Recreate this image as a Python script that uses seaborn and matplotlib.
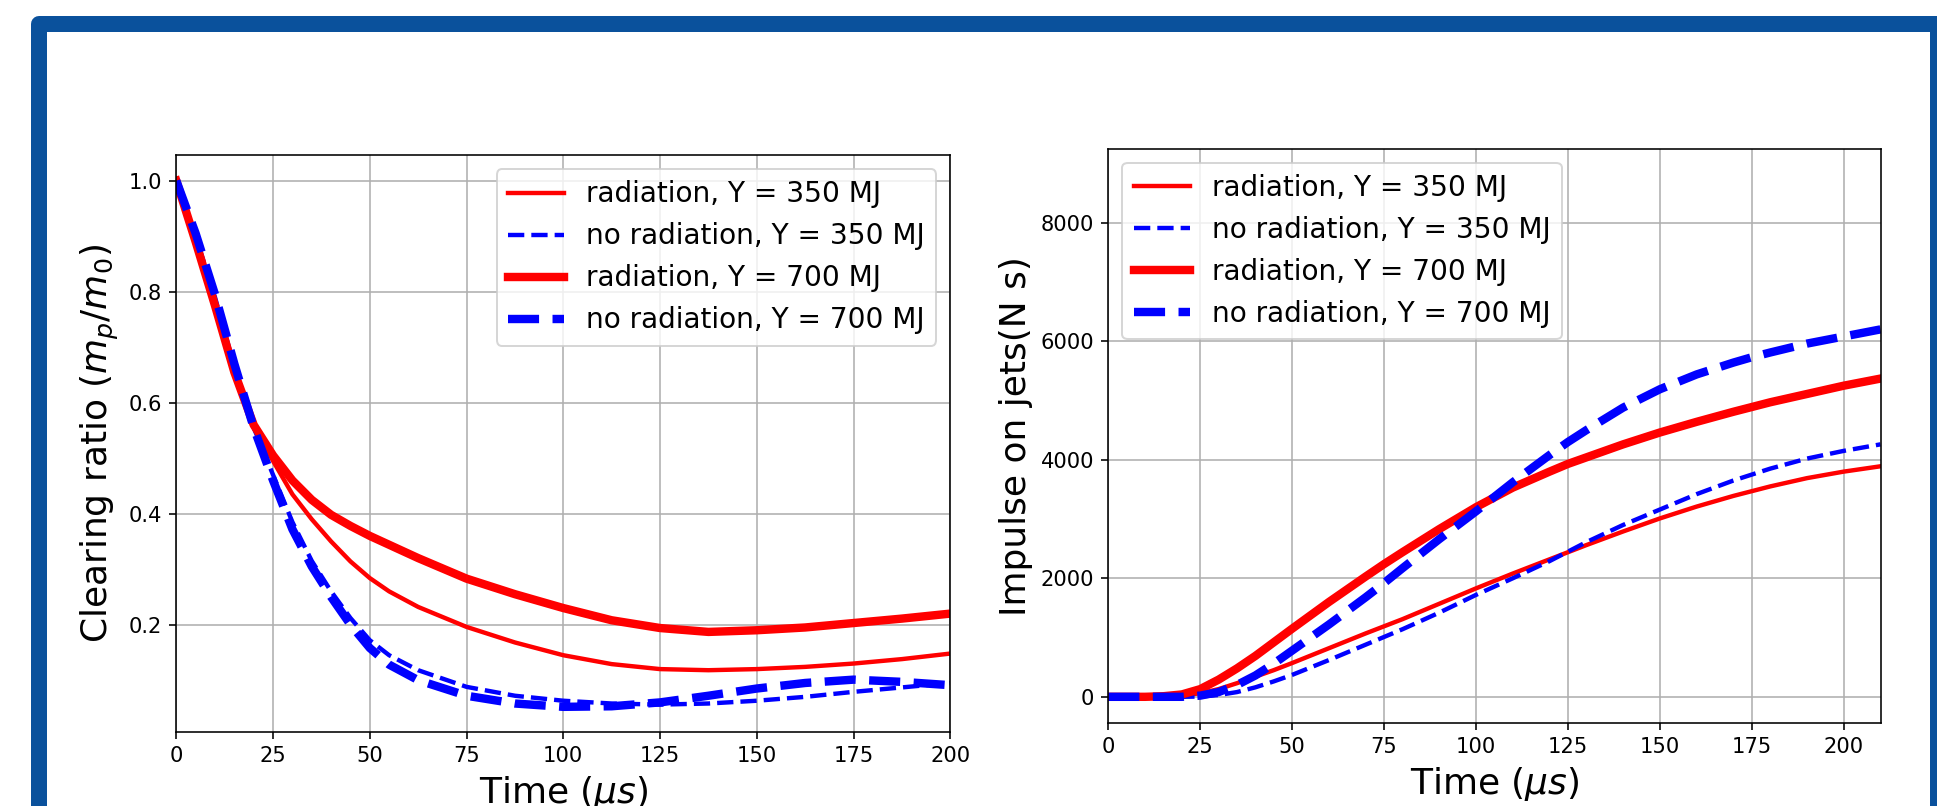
import numpy as np
import pandas as pd
import matplotlib
matplotlib.use("Agg")
import matplotlib.pyplot as plt
import matplotlib.patches as mpatches
import seaborn as sns

# ---------------- data ----------------
labels = ["radiation, Y = 350 MJ", "no radiation, Y = 350 MJ",
          "radiation, Y = 700 MJ", "no radiation, Y = 700 MJ"]

# Left panel: clearing ratio
t_clear = [0, 5, 10, 15, 20, 25, 30, 35, 40, 45, 50, 55, 62.5, 75, 87.5, 100,
           112.5, 125, 137.5, 150, 162.5, 175, 187.5, 200]
clear_rad350 = [1.0, 0.89, 0.775, 0.655, 0.56, 0.495, 0.435, 0.39, 0.35, 0.314, 0.284, 0.26,
                0.232, 0.196, 0.168, 0.145, 0.129, 0.12, 0.118, 0.12, 0.124, 0.13, 0.138, 0.148]
clear_norad350 = [1.0, 0.9, 0.79, 0.665, 0.555, 0.47, 0.385, 0.315, 0.26, 0.212, 0.172, 0.145,
                  0.118, 0.088, 0.072, 0.063, 0.058, 0.056, 0.058, 0.063, 0.07, 0.079, 0.087, 0.095]
clear_rad700 = [1.0, 0.89, 0.775, 0.655, 0.56, 0.505, 0.46, 0.425, 0.398, 0.378, 0.36, 0.344,
                0.32, 0.283, 0.255, 0.23, 0.208, 0.194, 0.187, 0.19, 0.195, 0.203, 0.211, 0.22]
clear_norad700 = [1.0, 0.905, 0.795, 0.67, 0.555, 0.46, 0.372, 0.305, 0.25, 0.2, 0.158, 0.128,
                  0.1, 0.072, 0.058, 0.052, 0.053, 0.06, 0.072, 0.085, 0.095, 0.101, 0.097, 0.091]

# Right panel: impulse on jets
t_imp = [0, 10, 15, 20, 25, 30, 35, 40, 45, 50, 60, 70, 75, 80, 90, 100, 110, 120,
         125, 130, 140, 150, 160, 170, 175, 180, 190, 200, 210]
imp_rad350 = [0, 0, 5, 20, 60, 130, 230, 340, 450, 570, 820, 1070, 1190, 1310, 1570,
              1830, 2080, 2320, 2440, 2560, 2790, 3010, 3210, 3390, 3470, 3550, 3690, 3800, 3890]
imp_norad350 = [0, 0, 0, 0, 5, 30, 80, 160, 260, 370, 620, 880, 1010, 1140, 1420,
                1720, 2000, 2290, 2450, 2610, 2900, 3160, 3420, 3650, 3750, 3850, 4020, 4150, 4260]
imp_rad700 = [0, 0, 10, 40, 130, 290, 480, 690, 920, 1150, 1600, 2030, 2240, 2440, 2830,
              3200, 3530, 3800, 3930, 4040, 4260, 4460, 4640, 4810, 4890, 4970, 5110, 5250, 5370]
imp_norad700 = [0, 0, 0, 0, 20, 80, 200, 360, 560, 780, 1220, 1680, 1920, 2170, 2660,
                3130, 3620, 4080, 4300, 4500, 4880, 5190, 5440, 5640, 5730, 5810, 5960, 6080, 6200]

x_ticks_left = [0, 25, 50, 75, 100, 125, 150, 175, 200]
y_ticks_left = [0.2, 0.4, 0.6, 0.8, 1.0]
x_ticks_right = [0, 25, 50, 75, 100, 125, 150, 175, 200]
y_ticks_right = [0, 2000, 4000, 6000, 8000]

# ---------------- styles ----------------
styles = [dict(color="red", lw=2.2, ls="-"),
          dict(color="blue", lw=2.2, ls="--"),
          dict(color="red", lw=4.2, ls="-"),
          dict(color="blue", lw=4.2, ls="--")]

W, H, DPI = 1937, 806, 144
fig = plt.figure(figsize=(W / DPI, H / DPI), dpi=DPI)
fig.patch.set_facecolor("white")

# blue frame
frame = mpatches.Rectangle((39 / DPI, -100 / DPI), (1938 - 39) / DPI, (782 + 100) / DPI,
                           transform=fig.dpi_scale_trans, facecolor="white",
                           edgecolor="#0a519c", lw=8, joinstyle="round", zorder=-5)
fig.add_artist(frame)


def px_axes(l, r, t, b):
    return [l / W, (H - b) / H, (r - l) / W, (b - t) / H]


ax1 = fig.add_axes(px_axes(176.3, 950.3, 155.3, 731.7))
ax2 = fig.add_axes(px_axes(1108.3, 1880.5, 148.7, 723.3))

for ys, lab, st in zip([clear_rad350, clear_norad350, clear_rad700, clear_norad700], labels, styles):
    df = pd.DataFrame({"t": t_clear, "v": ys})
    sns.lineplot(data=df, x="t", y="v", ax=ax1, color=st["color"], linewidth=st["lw"],
                 linestyle=st["ls"], label=lab, sort=False, estimator=None)

for ys, lab, st in zip([imp_rad350, imp_norad350, imp_rad700, imp_norad700], labels, styles):
    df = pd.DataFrame({"t": t_imp, "v": ys})
    sns.lineplot(data=df, x="t", y="v", ax=ax2, color=st["color"], linewidth=st["lw"],
                 linestyle=st["ls"], label=lab, sort=False, estimator=None)

ax1.set_xlim(0, 200)
ax1.set_ylim(0.0072, 1.0458)
ax1.set_xticks(x_ticks_left)
ax1.set_yticks(y_ticks_left)
ax1.set_xlabel(r"Time ($\mu s$)", fontsize=18)
ax1.set_ylabel(r"Clearing ratio ($m_p/m_0$)", fontsize=18)
ax1.legend(loc="upper right", fontsize=14)

ax2.set_xlim(0, 210)
ax2.set_ylim(-447, 9249)
ax2.set_xticks(x_ticks_right)
ax2.set_yticks(y_ticks_right)
ax2.set_xlabel(r"Time ($\mu s$)", fontsize=18)
ax2.set_ylabel("Impulse on jets(N s)", fontsize=18)
ax2.legend(loc="upper left", fontsize=14)

for ax in (ax1, ax2):
    ax.grid(True, color="#b0b0b0", lw=0.8)
    ax.set_axisbelow(True)
    ax.tick_params(labelsize=10.5)
    ax.set_facecolor("white")

fig.savefig("out.png", dpi=DPI)
